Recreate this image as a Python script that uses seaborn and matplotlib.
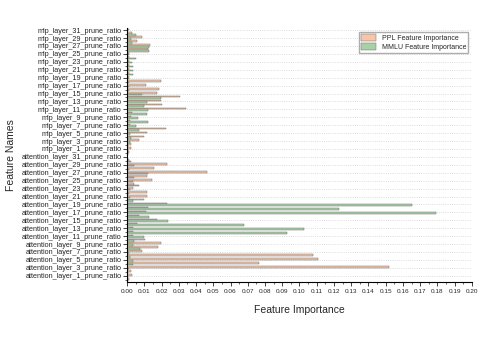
import numpy as np
import pandas as pd
import matplotlib
matplotlib.use("Agg")
import matplotlib.pyplot as plt
from matplotlib.ticker import MultipleLocator, FixedLocator
import seaborn as sns

# importance values, index = layer number (0..31)
attn_ppl = [0.001, 0.003, 0.002, 0.152, 0.0765, 0.111, 0.108, 0.0089,
            0.0178, 0.0197, 0.0104, 0.0035, 0.0035, 0.0032, 0.0056, 0.0172,
            0.007, 0.0108, 0.0124, 0.023, 0.010, 0.0114, 0.0118, 0.0035,
            0.0042, 0.0143, 0.0114, 0.0462, 0.0158, 0.0234, 0.001, 0.0]
attn_mmlu = [0.0005, 0.0005, 0.0005, 0.001, 0.0035, 0.0035, 0.0017, 0.001,
             0.0075, 0.0035, 0.0042, 0.010, 0.093, 0.1026, 0.068, 0.0236,
             0.0126, 0.179, 0.123, 0.165, 0.0035, 0.0015, 0.001, 0.0015,
             0.0072, 0.0035, 0.004, 0.012, 0.001, 0.0042, 0.002, 0.0]
mlp_ppl = [0.001, 0.002, 0.002, 0.0072, 0.010, 0.0118, 0.0224, 0.0015,
           0.0016, 0.002, 0.0027, 0.0344, 0.0201, 0.0197, 0.0307, 0.0176,
           0.0186, 0.0108, 0.0195, 0.001, 0.0013, 0.0013, 0.001, 0.001,
           0.0013, 0.0013, 0.012, 0.0135, 0.006, 0.0085, 0.003, 0.001]
mlp_mmlu = [0.0005, 0.0005, 0.0005, 0.0015, 0.002, 0.0015, 0.007, 0.005,
            0.012, 0.0062, 0.0114, 0.0124, 0.010, 0.0118, 0.0197, 0.0089,
            0.001, 0.001, 0.0013, 0.001, 0.0037, 0.0037, 0.0037, 0.003,
            0.005, 0.0013, 0.0125, 0.013, 0.003, 0.0025, 0.005, 0.0]

features = ([f"attention_layer_{i}_prune_ratio" for i in range(32)] +
            [f"mlp_layer_{i}_prune_ratio" for i in range(32)])
ppl = attn_ppl + mlp_ppl
mmlu = attn_mmlu + mlp_mmlu

df = pd.DataFrame({
    "Feature": features * 2,
    "Importance": ppl + mmlu,
    "Metric": ["PPL Feature Importance"] * 64 + ["MMLU Feature Importance"] * 64,
})

order = features[::-1]  # top of the chart first

sns.set_style("ticks")
plt.rcParams["font.family"] = ["Liberation Sans", "DejaVu Sans"]

fig = plt.figure(figsize=(4.85, 3.39), dpi=100)
ax = fig.add_axes([0.262, 0.169, 0.711, 0.748])

sns.barplot(data=df, x="Importance", y="Feature", hue="Metric", order=order,
            palette=["#ffc59b", "#a0d89e"], edgecolor="#707070", linewidth=0.35,
            width=0.8, ax=ax)

ax.set_xlim(0, 0.20)
ax.set_ylim(len(order) - 0.5, -0.5)
ax.xaxis.set_major_locator(MultipleLocator(0.01))
ax.xaxis.set_minor_locator(MultipleLocator(0.005))
ax.set_xticklabels([f"{v:.2f}" for v in ax.get_xticks()])

major_pos = list(range(0, 64, 2))
ax.yaxis.set_major_locator(FixedLocator(major_pos))
ax.yaxis.set_minor_locator(FixedLocator(list(range(1, 64, 2))))
ax.set_yticklabels([order[p] for p in major_pos])

ax.tick_params(axis="x", which="major", labelsize=4.6, length=3, width=0.6, pad=2)
ax.tick_params(axis="x", which="minor", length=1.5, width=0.5)
ax.tick_params(axis="y", which="major", labelsize=5.2, length=3, width=0.6, pad=1)
ax.tick_params(axis="y", which="minor", length=1.5, width=0.5)

ax.grid(axis="y", which="major", linestyle=":", color="#d0d0d0", linewidth=0.6)
ax.set_axisbelow(True)
sns.despine(ax=ax)
for s in ["left", "bottom"]:
    ax.spines[s].set_color("black")
    ax.spines[s].set_linewidth(0.8)

ax.set_xlabel("Feature Importance", fontsize=7.5, labelpad=8)
ax.set_ylabel("Feature Names", fontsize=7.5, labelpad=4)

ax.legend(loc="upper right", fontsize=5.0, frameon=True, fancybox=False,
          edgecolor="#999999", borderpad=0.3, handlelength=2.2,
          handleheight=1.3, labelspacing=0.15, borderaxespad=0.5)

fig.savefig("out.png", dpi=100)
